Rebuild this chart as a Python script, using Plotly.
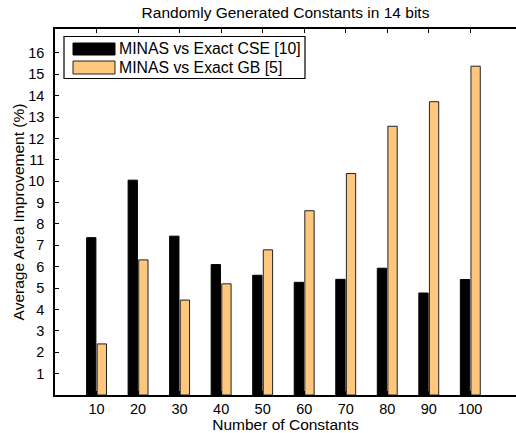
import plotly.graph_objects as go

categories = [10, 20, 30, 40, 50, 60, 70, 80, 90, 100]
cse_values = [7.36, 10.05, 7.43, 6.10, 5.60, 5.27, 5.41, 5.93, 4.77, 5.40]
gb_values = [2.39, 6.32, 4.44, 5.20, 6.79, 8.62, 10.36, 12.57, 13.72, 15.38]
series_names = ["MINAS vs Exact CSE [10]", "MINAS vs Exact GB [5]"]
y_ticks = list(range(1, 17))

FONT = "Liberation Sans, Arial, Helvetica, sans-serif"
BLACK = "#000000"
ORANGE = "#FFC77D"
YRANGE = [0, 17.12]

fig = go.Figure()
fig.add_trace(go.Bar(x=categories, y=cse_values, name=series_names[0],
                     marker=dict(color=BLACK, line=dict(color="#000000", width=1))))
fig.add_trace(go.Bar(x=categories, y=gb_values, name=series_names[1],
                     marker=dict(color=ORANGE, line=dict(color="#222222", width=1))))

W, H = 516, 433
L, R, T, B = 55, 0, 29, 38
PW, PH = W - L - R, H - T - B

fig.update_layout(
    width=W, height=H,
    margin=dict(l=L, r=R, t=T, b=B, autoexpand=False),
    paper_bgcolor="white", plot_bgcolor="white",
    barmode="group", bargap=0.49, bargroupgap=0.12,
    showlegend=False,
    font=dict(family=FONT, color="black", size=14),
    title=dict(text="Randomly Generated Constants in 14 bits",
               font=dict(family=FONT, size=15.5, color="black"),
               x=0.5, xref="paper", xanchor="center",
               y=1 - 13 / H, yref="container", yanchor="middle"),
    yaxis2=dict(overlaying="y", side="right", range=YRANGE, tickvals=y_ticks,
                ticks="inside", ticklen=4, tickwidth=1, tickcolor="black",
                showticklabels=False, showline=False, showgrid=False,
                zeroline=False, automargin=False),
)

fig.update_xaxes(
    range=[0, 111], tickvals=categories, ticktext=[str(c) for c in categories],
    ticks="inside", ticklen=4, tickwidth=1, tickcolor="black",
    showline=True, linecolor="black", linewidth=1.5, mirror="ticks",
    showgrid=False, zeroline=False, automargin=False,
    tickfont=dict(family=FONT, size=14.5),
    title=dict(text="Number of Constants", font=dict(family=FONT, size=15.5), standoff=0),
)
fig.update_layout(yaxis=dict(
    range=YRANGE, tickvals=y_ticks, ticktext=[str(v) for v in y_ticks],
    ticks="inside", ticklen=4, tickwidth=1, tickcolor="black",
    showline=True, linecolor="black", linewidth=1.5, mirror=False,
    showgrid=False, zeroline=False, automargin=False,
    tickfont=dict(family=FONT, size=14.5),
    ticklabelstandoff=6,
    title=dict(text="Average Area Improvement (%)", font=dict(family=FONT, size=15.5), standoff=0),
))

# Legend drawn by hand to match the wide MATLAB-style swatches
def px(xp):
    return (xp - L) / PW

def py(yp):
    return (H - B - yp) / PH

fig.add_shape(type="rect", xref="paper", yref="paper",
              x0=px(64), x1=px(305), y0=py(78.5), y1=py(36.5),
              line=dict(color="black", width=1.2), fillcolor="white", layer="above")
swatches = [(BLACK, "black", 43, 55), (ORANGE, "#222222", 61, 74)]
for (fill, edge, top, bot), name in zip(swatches, series_names):
    fig.add_shape(type="rect", xref="paper", yref="paper",
                  x0=px(73), x1=px(115), y0=py(bot), y1=py(top),
                  line=dict(color=edge, width=1), fillcolor=fill, layer="above")
    fig.add_annotation(xref="paper", yref="paper", x=px(117), y=py((top + bot) / 2),
                       text=name, showarrow=False, xanchor="left", yanchor="middle",
                       font=dict(family=FONT, size=15.8, color="black"))

fig.write_html("out.html", config={"displayModeBar": False},
               post_script="document.body.style.margin='0px';document.body.style.overflow='hidden';"
                           "document.documentElement.style.overflow='hidden';")
